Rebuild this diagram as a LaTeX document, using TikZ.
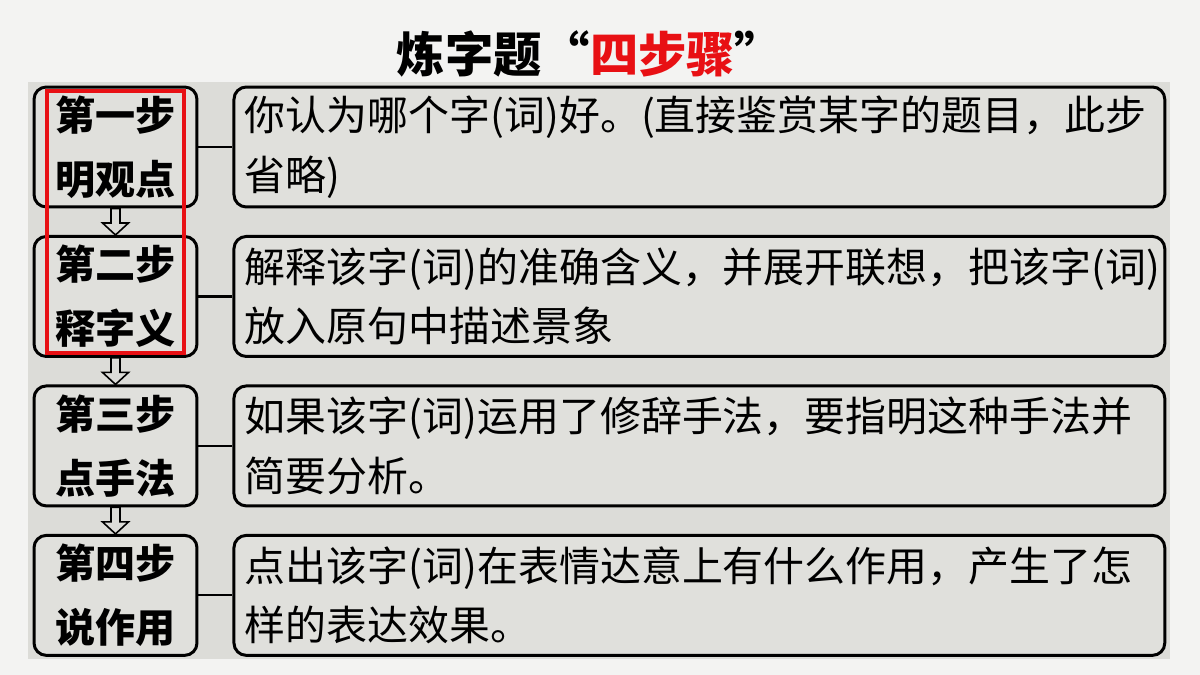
\documentclass[tikz,border=0pt]{standalone}
\usepackage{fontspec}
\setmainfont{Noto Sans CJK SC}
\usetikzlibrary{positioning,calc}
\definecolor{bggray}{RGB}{243,243,242}
\definecolor{panelgray}{RGB}{220,220,216}
\definecolor{boxgray}{RGB}{224,224,220}
\definecolor{titlered}{RGB}{232,16,20}
\begin{document}
\begin{tikzpicture}[x=0.02cm,y=-0.02cm,
	stepbox/.style={draw=black, line width=1.7pt, rounded corners=7pt, fill=boxgray,
		minimum width=3.26cm, minimum height=2.4cm, inner sep=0pt, align=center,
		font=\bfseries\fontsize{22.8pt}{36.4pt}\selectfont},
	textbox/.style={draw=black, line width=1.7pt, rounded corners=7pt, fill=boxgray,
		minimum height=2.4cm, text width=18.18cm, inner xsep=0.22cm, inner ysep=0pt, align=left,
		font=\fontsize{23.3pt}{34pt}\selectfont},
	link/.style={line width=1.2pt},
	hollow/.style={draw=black, line width=0.9pt, fill=panelgray}]
	\useasboundingbox (0,0) rectangle (1200,675);
	\fill[bggray] (0,0) rectangle (1200,675);
	\fill[panelgray] (28,82) rectangle (1170,659);
	
	\node (title) at (590,54) {\bfseries\fontsize{27.5pt}{30pt}\selectfont 炼字题“\textcolor{titlered}{四步骤}”};
	
	\node[stepbox] (s1) at (115.5,147) {第一步\\明观点};
	\node[stepbox, below=0.53cm of s1] (s2) {第二步\\释字义};
	\node[stepbox, below=0.53cm of s2] (s3) {第三步\\点手法};
	\node[stepbox, below=0.53cm of s3] (s4) {第四步\\说作用};
	
	\node[textbox, right=0.68cm of s1] (t1) {你认为哪个字(词)好。(直接鉴赏某字的题目，此步\\省略)};
	\node[textbox, right=0.68cm of s2] (t2) {解释该字(词)的准确含义，并展开联想，把该字(词)\\放入原句中描述景象};
	\node[textbox, right=0.68cm of s3] (t3) {如果该字(词)运用了修辞手法，要指明这种手法并\\简要分析。};
	\node[textbox, right=0.68cm of s4] (t4) {点出该字(词)在表情达意上有什么作用，产生了怎\\样的表达效果。};
	
	\foreach \i in {1,...,4}
		\draw[link] (s\i) -- (t\i);
	
	\foreach \a/\b in {s1/s2,s2/s3,s3/s4}
		\draw[hollow] (\a.south) ++(-4.5,0) |- ($(\b.north)+(-13,-12)$) -- (\b.north)
			-- ++(13,-12) -- ++(-8.5,0) -- ($(\a.south)+(4.5,0)$) -- cycle;
	
	\draw[titlered, line width=2pt] (47,91) rectangle (184,353);
\end{tikzpicture}
\end{document}
